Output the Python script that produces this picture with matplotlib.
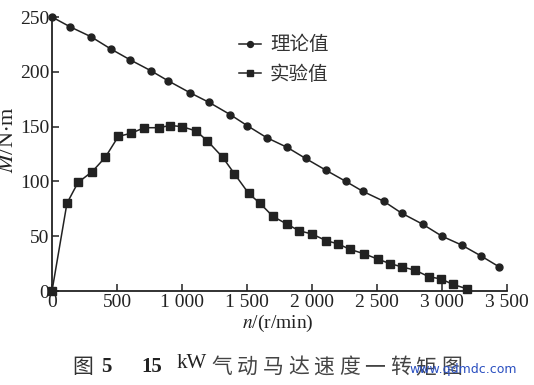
import matplotlib
matplotlib.use("Agg")
import matplotlib.pyplot as plt
from matplotlib.ticker import FuncFormatter

# Theoretical torque (circles)
n_theory = [0, 140, 300, 450, 600, 760, 890, 1060, 1210, 1370, 1500, 1650,
            1810, 1950, 2110, 2260, 2390, 2550, 2690, 2850, 3000, 3150, 3300, 3440]
m_theory = [250, 241, 232, 221, 211, 201, 192, 181, 172, 161, 151, 140,
            131, 121, 110, 100, 91, 82, 71, 61, 50, 42, 32, 22]

# Experimental torque (squares)
n_exp = [0, 115, 200, 310, 410, 510, 610, 710, 820, 910, 1000, 1108, 1195,
         1313, 1403, 1513, 1600, 1700, 1808, 1900, 2000, 2108, 2200, 2292,
         2400, 2508, 2600, 2692, 2792, 2900, 2992, 3085, 3192]
m_exp = [0, 80, 99, 109, 122, 141, 144, 149, 149, 151, 150, 146, 137,
         122, 107, 89, 80, 68, 61, 55, 52, 46, 43, 38,
         34, 29, 25, 22, 19, 13, 11, 6, 2]

x_ticks = [0, 500, 1000, 1500, 2000, 2500, 3000, 3500]
y_ticks = [0, 50, 100, 150, 200, 250]
legend_labels = ["理论值", "实验值"]

SERIF = "Liberation Serif"
CJK = ["Noto Sans CJK SC", "DejaVu Sans"]

fig = plt.figure(figsize=(5.34, 3.85), dpi=100)
ax = fig.add_axes([52/534, 1-291/385, (507-52)/534, (291-17)/385])

col = "#222222"
ax.plot(n_theory, m_theory, marker="o", color=col, lw=1.1, ms=5,
        label=legend_labels[0])
ax.plot(n_exp, m_exp, marker="s", color=col, lw=1.1, ms=5.5,
        label=legend_labels[1])

ax.set_xlim(0, 3500)
ax.set_ylim(0, 250)
ax.set_xticks(x_ticks)
ax.set_yticks(y_ticks)
fmt = FuncFormatter(lambda v, p: f"{int(v):,}".replace(",", " "))
ax.xaxis.set_major_formatter(fmt)
for s in ["top", "right"]:
    ax.spines[s].set_visible(False)
for s in ["left", "bottom"]:
    ax.spines[s].set_linewidth(1.3)
    ax.spines[s].set_color(col)
ax.tick_params(direction="in", length=5, width=1.1, color=col,
               labelsize=14, labelcolor="#222222", pad=2)
ax.spines["bottom"].set_bounds(0, 3500)
for lab in ax.get_xticklabels() + ax.get_yticklabels():
    lab.set_fontfamily(SERIF)
for ln in ax.lines:
    ln.set_clip_on(False)

leg = ax.legend(loc="upper left", bbox_to_anchor=(0.372, 1.0), frameon=False,
                prop={"family": CJK, "size": 14}, handlelength=1.15,
                handletextpad=0.45, labelspacing=0.45, markerscale=0.85)
for t in leg.get_texts():
    t.set_color("#333333")

fig.text(9/534, 1-140/385, r"$M$/N$\cdot$m", rotation=90, ha="center",
         va="center", fontsize=16, family=SERIF, color=col,
         math_fontfamily="stix")
fig.text(278/534, 1-323/385, r"$n$/(r/min)", ha="center", va="center",
         fontsize=14, family=SERIF, color=col, math_fontfamily="stix")

# caption
cy = 1 - 367/385
fig.text(83/534, cy, "图", ha="center", va="center", fontsize=15,
         family=CJK, color="#333333")
fig.text(106/534, cy, "5", ha="center", va="center", fontsize=15,
         family=SERIF, weight="bold", color="#222222")
fig.text(152/534, cy, "15", ha="center", va="center", fontsize=15,
         family=SERIF, weight="bold", color="#222222")
fig.text(192/534, cy + 0.008, "kW", ha="center", va="center", fontsize=15,
         family=SERIF, color="#222222")
cap = "气动马达速度一转矩图"
for i, ch in enumerate(cap):
    fig.text((222 + i*25.5)/534, cy, ch, ha="center", va="center",
             fontsize=15, family=CJK, color="#444444")

fig.text(463/534, 1-370/385, "www.qdmdc.com", ha="center", va="center",
         fontsize=9, family="DejaVu Sans", color="#2a4fc0")

fig.savefig("out.png", dpi=100)
